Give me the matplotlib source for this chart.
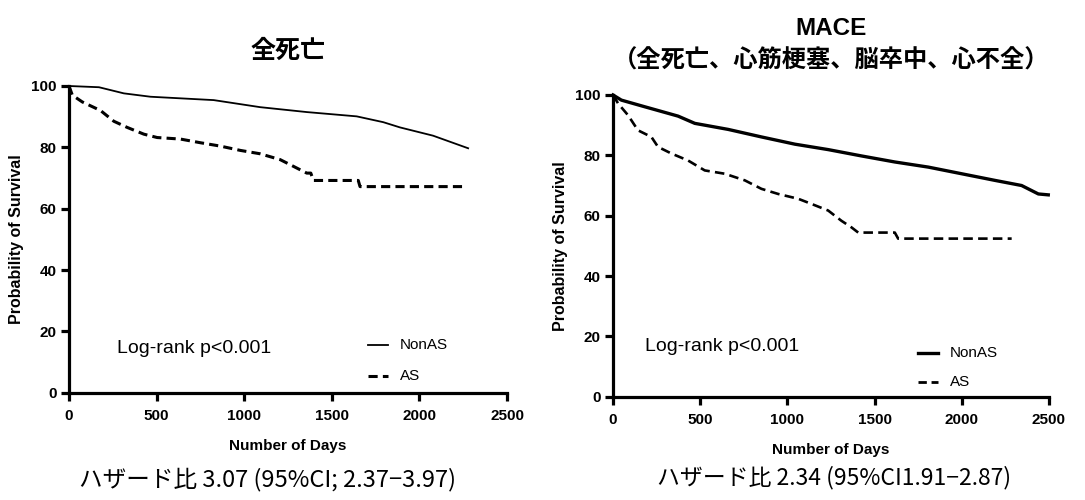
import matplotlib
matplotlib.use("Agg")
import matplotlib.pyplot as plt
from matplotlib.lines import Line2D

# ---------------- data ----------------
left_title = "全死亡"
right_title = "MACE\n（全死亡、心筋梗塞、脳卒中、心不全）"
x_label = "Number of Days"
y_label = "Probability of Survival"
x_ticks = [0, 500, 1000, 1500, 2000, 2500]
y_ticks = [0, 20, 40, 60, 80, 100]
series_names = ["NonAS", "AS"]
logrank_text = "Log-rank p<0.001"
left_hr_text = "ハザード比 3.07 (95%CI; 2.37−3.97)"
right_hr_text = "ハザード比 2.34 (95%CI1.91−2.87)"

# Left panel: all-cause death
l_nonas_days = [0, 171, 313, 465, 826, 1091, 1357, 1642, 1794, 1889, 2078, 2278]
l_nonas_surv = [100, 99.6, 97.6, 96.5, 95.4, 93.1, 91.5, 90.1, 88.2, 86.5, 83.8, 79.7]
l_as_days = [0, 19, 76, 180, 256, 332, 427, 503, 636, 750, 864, 978, 1091,
             1205, 1281, 1357, 1380, 1395, 1651, 1661, 2268]
l_as_surv = [100, 97, 94.8, 92, 88.5, 86.5, 84.3, 83.2, 82.7, 81.5, 80.4, 79,
             77.9, 76, 73.8, 71.6, 71.6, 69.2, 69.2, 67.2, 67.2]

# Right panel: MACE
r_nonas_days = [0, 48, 182, 373, 469, 660, 851, 1043, 1234, 1425, 1616, 1808,
                1999, 2190, 2343, 2439, 2496]
r_nonas_surv = [100, 98.3, 96.1, 93, 90.6, 88.6, 86.1, 83.7, 81.9, 79.8, 77.8,
                76.1, 73.9, 71.7, 70, 67.2, 66.9]
r_as_days = [0, 29, 86, 143, 220, 258, 335, 430, 526, 641, 756, 851, 947, 1062,
             1138, 1234, 1310, 1368, 1406, 1616, 1635, 2286]
r_as_surv = [100, 97.2, 93.3, 88.3, 86.1, 82.8, 80.6, 78.3, 75, 73.9, 71.7, 68.9,
             67.2, 65.6, 63.9, 61.7, 58.3, 56.1, 54.4, 54.4, 52.4, 52.4]

# ---------------- style ----------------
JP = ["Noto Sans CJK JP", "DejaVu Sans"]
AR = ["Liberation Sans", "Noto Sans CJK JP", "DejaVu Sans"]
plt.rcParams["font.family"] = AR

fig = plt.figure(figsize=(10.85, 5.0), dpi=100)
axL = fig.add_axes([0.0636, 0.2146, 0.4037, 0.6134])
axR = fig.add_axes([0.5650, 0.2066, 0.4018, 0.6034])


def style_axes(ax):
    for s in ["top", "right"]:
        ax.spines[s].set_visible(False)
    for s in ["left", "bottom"]:
        ax.spines[s].set_linewidth(2.3)
    ax.set_xlim(0, 2500)
    ax.set_ylim(0, 100)
    ax.set_xticks(x_ticks)
    ax.set_yticks(y_ticks)
    ax.tick_params(width=2.3, length=6, direction="out", pad=3)
    ax.tick_params(axis="x", pad=6)
    for lab in ax.get_xticklabels() + ax.get_yticklabels():
        lab.set_fontweight("bold")
        lab.set_fontsize(11)
    ax.set_xlabel(x_label, fontweight="bold", fontsize=11, labelpad=11)
    ax.set_ylabel(y_label, fontweight="bold", fontsize=11.5, labelpad=5)


# Left
axL.plot(l_nonas_days, l_nonas_surv, color="black", lw=1.3, clip_on=False)
axL.plot(l_as_days, l_as_surv, color="black", lw=2.2,
         ls=(0, (3.0, 1.7)), clip_on=False)
style_axes(axL)
axL.set_title(left_title, family=JP, fontweight="bold", fontsize=18, pad=20)
axL.text(0.11, 0.145, logrank_text, transform=axL.transAxes,
         fontsize=14, va="center")

# Right
axR.plot(r_nonas_days, r_nonas_surv, color="black", lw=2.4, clip_on=False)
axR.plot(r_as_days, r_as_surv, color="black", lw=1.9,
         ls=(0, (3.6, 2.0)), clip_on=False)
style_axes(axR)
axR.set_title(right_title, fontweight="bold", fontsize=17.5, pad=20,
              linespacing=1.5)
axR.text(0.074, 0.165, logrank_text, transform=axR.transAxes,
         fontsize=14, va="center")


def add_legend(ax, x0, y_top, y_gap, lw_solid, lw_dash, dash):
    x1 = x0 + 0.046
    for i, name in enumerate(series_names):
        y = y_top - i * y_gap
        if i == 0:
            ax.add_line(Line2D([x0, x1], [y, y], transform=ax.transAxes,
                               color="black", lw=lw_solid))
        else:
            ax.add_line(Line2D([x0, x1], [y, y], transform=ax.transAxes,
                               color="black", lw=lw_dash, ls=(0, dash)))
        ax.text(x1 + 0.027, y, name, transform=ax.transAxes,
                fontsize=11, va="center")


add_legend(axL, 0.683, 0.155, 0.101, 1.3, 2.2, (3.0, 1.7))
add_legend(axR, 0.700, 0.145, 0.097, 2.4, 2.0, (3.0, 1.7))

fig.text(0.247, 0.04, left_hr_text, family=JP, fontsize=17, ha="center",
         va="center")
fig.text(0.769, 0.044, right_hr_text, family=JP, fontsize=16.5, ha="center",
         va="center")

fig.savefig("out.png", dpi=100)
